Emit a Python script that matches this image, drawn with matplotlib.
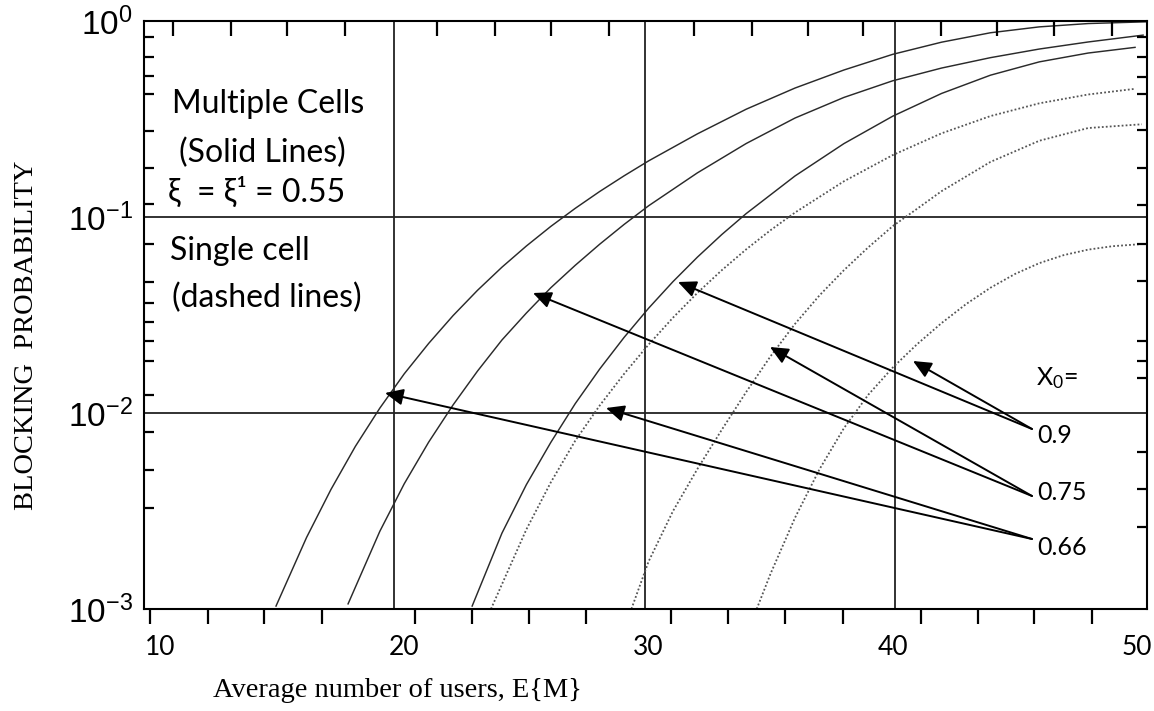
import matplotlib
matplotlib.use('Agg')
import matplotlib.pyplot as plt
from matplotlib.ticker import FixedLocator, NullLocator, NullFormatter

# ---- data: x = E{M}, p = blocking probability ----
# multiple cells (solid lines)
multi_066_x = [14.75, 16, 17, 18, 19, 20, 21, 22, 23, 24, 25, 26, 27, 28, 29, 30,
               32, 34, 36, 38, 40, 42, 44, 46, 48, 50.4]
multi_066_p = [0.001035, 0.002317, 0.004074, 0.006761, 0.01059, 0.01585, 0.02265, 0.03141,
               0.04227, 0.05546, 0.07112, 0.08954, 0.1107, 0.1349, 0.1622, 0.1932,
               0.2655, 0.3548, 0.4550, 0.5623, 0.6761, 0.7798, 0.8710, 0.9333, 0.9705, 0.9908]

multi_075_x = [17.7, 19, 20, 21, 22, 23, 24, 25, 26, 27, 28, 29, 30,
               32, 34, 36, 38, 40, 42, 44, 46, 48, 50.25]
multi_075_p = [0.001062, 0.002491, 0.004355, 0.007103, 0.01100, 0.01637, 0.02358, 0.03236,
               0.04355, 0.05668, 0.07261, 0.09162, 0.1140,
               0.1679, 0.2371, 0.3199, 0.4074, 0.4955, 0.5754, 0.6501, 0.7194, 0.7816, 0.8472]

multi_090_x = [22.78, 24, 25, 26, 27, 28, 29, 30, 31, 32, 33, 34,
               36, 38, 40, 42, 44, 46, 48, 49.92]
multi_090_p = [0.001035, 0.002438, 0.004310, 0.007079, 0.01116, 0.01675, 0.02430, 0.03420,
               0.04677, 0.06237, 0.08138, 0.1041,
               0.1620, 0.2368, 0.3269, 0.4270, 0.5291, 0.6187, 0.6863, 0.7337]

# single cell (dotted lines)
single_066_x = [23.55, 25, 26, 27, 28, 29, 30, 31, 32, 33, 34, 35,
                36, 38, 40, 42, 44, 46, 48, 49.92]
single_066_p = [0.001, 0.002547, 0.004426, 0.007219, 0.01091, 0.01583, 0.02231, 0.03062,
                0.04098, 0.05352, 0.06839, 0.0857,
                0.1054, 0.1521, 0.2070, 0.2673, 0.3273, 0.3802, 0.4217, 0.4508]

single_075_x = [29.3, 30, 31, 32, 33, 34, 35, 36, 37, 38, 39, 40, 41,
                42, 44, 46, 48, 50.2]
single_075_p = [0.001, 0.001744, 0.003155, 0.005176, 0.008213, 0.0128, 0.0195, 0.02851,
                0.03981, 0.05352, 0.07007, 0.08985, 0.1102,
                0.1355, 0.1910, 0.2449, 0.2844, 0.2972]

single_090_x = [34.43, 35, 36, 37, 38, 39, 40, 41, 42, 43, 44, 45, 46, 47, 48, 49, 50.2]
single_090_p = [0.001, 0.001517, 0.002924, 0.005159, 0.008366, 0.0124, 0.01706, 0.02246,
                0.02877, 0.03593, 0.04355, 0.05117, 0.05815, 0.06391, 0.06816, 0.07096, 0.07278]

x_ticks = [10, 20, 30, 40, 50]
y_ticks = [1e-3, 1e-2, 1e-1, 1e0]
y_tick_labels = [r'$\mathregular{10^{-3}}$', r'$\mathregular{10^{-2}}$',
                 r'$\mathregular{10^{-1}}$', r'$\mathregular{10^{0}}$']

# ---- layout helpers (reference is 1154x711 px) ----
W, H = 1154, 711


def px_to_x(px):
    return 10 + (px - 160) / 24.425


def py_to_p(py):
    return 10 ** (-(py - 21) / 196)


def fx(px):
    return px / W


def fy(py):
    return 1 - py / H


TEXT_FONT = ['Lato', 'DejaVu Sans']
SERIF = 'Liberation Serif'

fig = plt.figure(figsize=(W / 100, H / 100), dpi=100)
ax = fig.add_axes([fx(144), fy(609), (1147 - 144) / W, (609 - 21) / H])
ax.set_yscale('log')
ax.set_xlim(px_to_x(144), px_to_x(1147))
ax.set_ylim(1e-3, 1)

# grid lines
for p in [1e-1, 1e-2]:
    ax.axhline(p, color='#222222', lw=1.3, zorder=1)
for px in [394, 645, 895]:
    ax.axvline(px_to_x(px), color='#222222', lw=1.3, zorder=1)

# curves
solid = dict(color='#2a2a2a', lw=1.05, zorder=2)
dotted = dict(color='#555555', lw=1.3, linestyle=(0, (1, 1.2)), zorder=2)
ax.plot(multi_066_x, multi_066_p, **solid)
ax.plot(multi_075_x, multi_075_p, **solid)
ax.plot(multi_090_x, multi_090_p, **solid)
ax.plot(single_066_x, single_066_p, **dotted)
ax.plot(single_075_x, single_075_p, **dotted)
ax.plot(single_090_x, single_090_p, **dotted)

# arrows from the X0 labels to the curves (pixel positions of start and tip)
arrows = [
    ((1032, 429), (678, 282)), ((1032, 429), (913, 361)),
    ((1032, 496), (533, 293)), ((1032, 496), (770, 347)),
    ((1032, 539), (385, 393)), ((1032, 539), (606, 408)),
]
for (sx, sy), (tx, ty) in arrows:
    ax.annotate('', xy=(px_to_x(tx), py_to_p(ty)), xytext=(px_to_x(sx), py_to_p(sy)),
                arrowprops=dict(arrowstyle='-|>,head_length=0.55,head_width=0.25',
                                mutation_scale=20, color='black', lw=1.4,
                                shrinkA=0, shrinkB=0), zorder=3)

# ticks
for s in ax.spines.values():
    s.set_linewidth(1.5)
ax.set_xticks(x_ticks)
ax.set_xticklabels([str(v) for v in x_ticks], family=TEXT_FONT, fontsize=19)
ax.xaxis.set_minor_locator(FixedLocator([px_to_x(v) for v in
                           [150, 208, 264, 322, 415, 472, 529, 586, 671, 728, 785, 843, 921, 978, 1034, 1092]]))
ax.tick_params(axis='x', which='major', length=0, pad=19)
ax.tick_params(axis='x', which='minor', direction='out', length=11, width=1.6)

ax.yaxis.set_major_locator(FixedLocator(y_ticks))
ax.set_yticklabels(y_tick_labels, family='Liberation Sans', fontsize=24)
ax.yaxis.set_minor_locator(FixedLocator([py_to_p(v) for v in
                           [37, 57, 76, 94, 131, 168, 204, 244, 282, 303, 322, 341, 361, 395, 432, 470, 508]]))
ax.yaxis.set_minor_formatter(NullFormatter())
ax.tick_params(axis='y', which='major', length=0, pad=8)
ax.tick_params(axis='y', which='minor', direction='in', length=7, width=1.6)

axt = ax.twiny()
axt.set_xlim(ax.get_xlim())
axt.xaxis.set_major_locator(NullLocator())
axt.xaxis.set_minor_locator(FixedLocator([px_to_x(v) for v in
                            [173, 231, 287, 345, 437, 495, 551, 609, 694, 752, 808, 863, 941, 997, 1054, 1112]]))
axt.tick_params(axis='x', which='minor', direction='in', length=11, width=1.6)

axr = ax.twinx()
axr.set_yscale('log')
axr.set_ylim(1e-3, 1)
axr.yaxis.set_major_locator(NullLocator())
axr.yaxis.set_minor_locator(FixedLocator([py_to_p(v) for v in
                            [37, 57, 77, 94, 130, 168, 205, 244, 281, 341, 361, 378, 452, 489, 527]]))
axr.yaxis.set_minor_formatter(NullFormatter())
axr.tick_params(axis='y', which='minor', direction='in', length=7, width=1.6)
for a in (axt, axr):
    for s in a.spines.values():
        s.set_visible(False)

# annotation text
fig.text(fx(172), fy(113), 'Multiple Cells', family=TEXT_FONT, fontsize=23, va='baseline')
fig.text(fx(179), fy(162), '(Solid Lines)', family=TEXT_FONT, fontsize=23, va='baseline')
fig.text(fx(168), fy(202), 'ξ  = ξ¹ = 0.55', family=TEXT_FONT, fontsize=23, va='baseline')
fig.text(fx(170), fy(260), 'Single cell', family=TEXT_FONT, fontsize=23, va='baseline')
fig.text(fx(172), fy(307), '(dashed lines)', family=TEXT_FONT, fontsize=23, va='baseline')

fig.text(fx(1036), fy(385), r'X$\mathregular{_0}$=', family=TEXT_FONT, fontsize=18, va='baseline')
fig.text(fx(1037), fy(443), '0.9', family=TEXT_FONT, fontsize=18, va='baseline')
fig.text(fx(1037), fy(500), '0.75', family=TEXT_FONT, fontsize=18, va='baseline')
fig.text(fx(1037), fy(555), '0.66', family=TEXT_FONT, fontsize=18, va='baseline')

# axis titles
fig.text(fx(27), fy(335), 'BLOCKING  PROBABILITY', family=SERIF, fontsize=20.5,
         rotation=90, ha='center', va='center')
fig.text(fx(213), fy(697), 'Average number of users, E{M}', family=SERIF, fontsize=20.5,
         va='baseline')

fig.savefig('out.png', dpi=100)
